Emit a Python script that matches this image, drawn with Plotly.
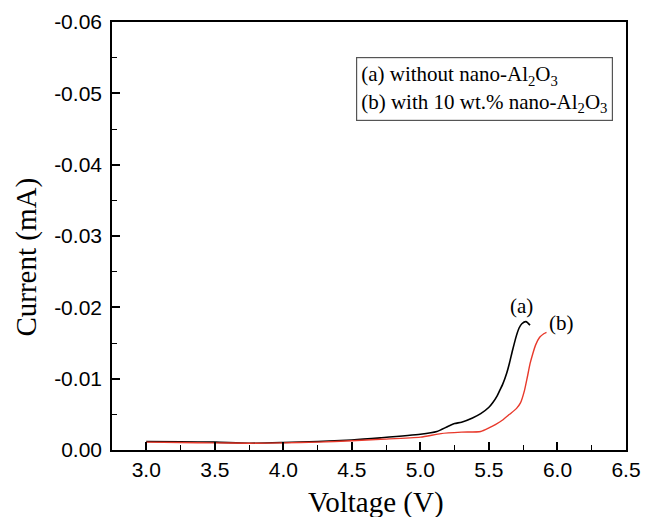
import plotly.graph_objects as go

# Linear sweep voltammetry: current vs. voltage
voltage_a = [3.0, 3.25, 3.5, 3.75, 4.0, 4.25, 4.5, 4.71, 5.0, 5.12, 5.2, 5.25, 5.3,
             5.38, 5.44, 5.5, 5.53, 5.56, 5.58, 5.6, 5.63, 5.65, 5.67, 5.7, 5.72,
             5.74, 5.77, 5.8]
current_a = [-0.0012, -0.00115, -0.0011, -0.00095, -0.00105, -0.0012, -0.0014,
             -0.0017, -0.0022, -0.0026, -0.0033, -0.0037, -0.0039, -0.0045, -0.0051,
             -0.0060, -0.0067, -0.0076, -0.0084, -0.0092, -0.0108, -0.0122, -0.0138,
             -0.0160, -0.0171, -0.0177, -0.0180, -0.0175]

voltage_b = [3.0, 3.25, 3.5, 3.75, 4.0, 4.25, 4.5, 4.71, 5.0, 5.15, 5.3, 5.44, 5.5,
             5.55, 5.6, 5.65, 5.7, 5.73, 5.76, 5.78, 5.8, 5.82, 5.84, 5.87, 5.9, 5.92]
current_b = [-0.0011, -0.00105, -0.0010, -0.00095, -0.0010, -0.0011, -0.0013,
             -0.0015, -0.0018, -0.0023, -0.0025, -0.0026, -0.0031, -0.0036, -0.0042,
             -0.0050, -0.0058, -0.0066, -0.0084, -0.0102, -0.0121, -0.0135, -0.0147,
             -0.0158, -0.0163, -0.0165]

x_ticks = [3.0, 3.5, 4.0, 4.5, 5.0, 5.5, 6.0, 6.5]
x_labels = ["3.0", "3.5", "4.0", "4.5", "5.0", "5.5", "6.0", "6.5"]
y_ticks = [0.0, -0.01, -0.02, -0.03, -0.04, -0.05, -0.06]
y_labels = ["0.00", "-0.01", "-0.02", "-0.03", "-0.04", "-0.05", "-0.06"]

legend_text = ("(a) without nano-Al<sub>2</sub>O<sub>3</sub><br>"
               "(b) with 10 wt.% nano-Al<sub>2</sub>O<sub>3</sub>")

serif = "Liberation Serif, Times New Roman, serif"
sans = "Liberation Sans, Arial, sans-serif"

fig = go.Figure()
fig.add_trace(go.Scatter(x=voltage_a, y=current_a, mode="lines",
                         line=dict(color="black", width=1.6, shape="spline", smoothing=0.6),
                         showlegend=False))
fig.add_trace(go.Scatter(x=voltage_b, y=current_b, mode="lines",
                         line=dict(color="#e8392b", width=1.4, shape="spline", smoothing=0.6),
                         showlegend=False))

axis_common = dict(
    showline=True, linecolor="black", linewidth=1.6, mirror=True,
    ticks="inside", ticklen=8, tickwidth=1.5, tickcolor="black",
    showgrid=False, zeroline=False, automargin=False,
    tickfont=dict(family=sans, size=21, color="black"),
)

fig.update_xaxes(
    range=[2.75, 6.5], tickvals=x_ticks, ticktext=x_labels,
    minor=dict(ticks="inside", ticklen=5, tickwidth=1.3, tickcolor="black", dtick=0.25,
               tick0=2.75, showgrid=False),
    **axis_common,
)
fig.update_yaxes(
    range=[0.0, -0.06], tickvals=y_ticks, ticktext=y_labels, ticklabelstandoff=4,
    minor=dict(ticks="inside", ticklen=5, tickwidth=1.3, tickcolor="black", dtick=0.005,
               tick0=0, showgrid=False),
    **axis_common,
)

# axis titles
fig.add_annotation(x=0.514, y=-0.122, xref="paper", yref="paper", text="Voltage (V)",
                   showarrow=False, xanchor="center", yanchor="middle",
                   font=dict(family=serif, size=29, color="black"))
fig.add_annotation(x=-0.167, y=0.45, xref="paper", yref="paper", text="Current (mA)",
                   showarrow=False, xanchor="center", yanchor="middle", textangle=-90,
                   font=dict(family=serif, size=29, color="black"))

# curve labels
fig.add_annotation(x=5.74, y=-0.0202, xref="x", yref="y", text="(a)", showarrow=False,
                   font=dict(family=serif, size=21, color="black"))
fig.add_annotation(x=6.03, y=-0.0178, xref="x", yref="y", text="(b)", showarrow=False,
                   font=dict(family=serif, size=21, color="black"))

# legend box
fig.add_annotation(x=0.475, y=0.918, xref="paper", yref="paper", xanchor="left",
                   yanchor="top", text=legend_text, align="left", showarrow=False,
                   font=dict(family=serif, size=21, color="black"),
                   bordercolor="#555555", borderwidth=1.2, borderpad=4,
                   bgcolor="white")

fig.update_layout(
    width=645, height=517,
    margin=dict(l=112, r=19, t=22, b=67),
    paper_bgcolor="white", plot_bgcolor="white",
)

fig.write_html("out.html")
